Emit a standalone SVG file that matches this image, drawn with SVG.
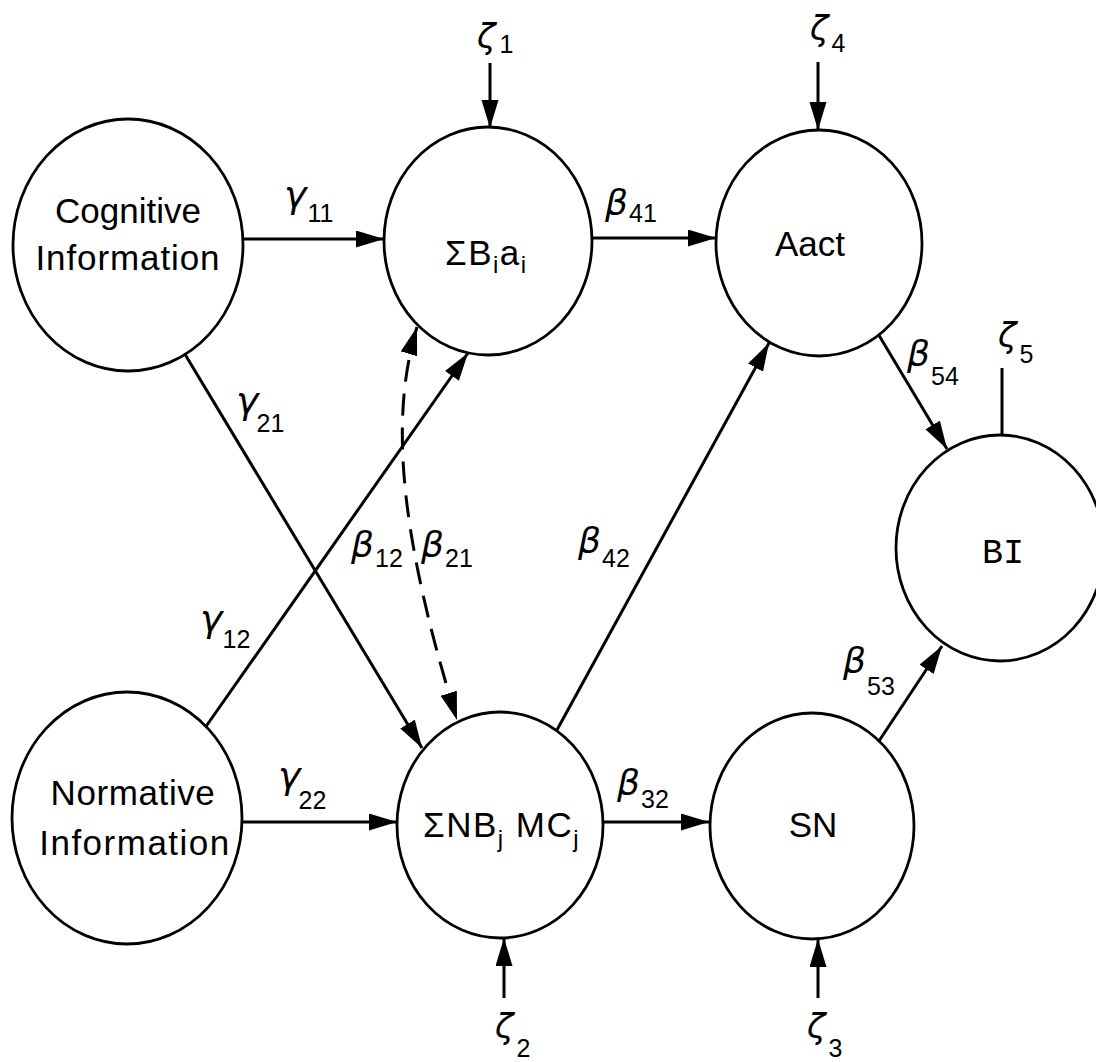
<svg xmlns="http://www.w3.org/2000/svg" width="1096" height="1062" viewBox="0 0 1096 1062">
  <style>
    .node ellipse { fill: #fff; stroke: #000; stroke-width: 2.8; }
    .lbl { font-family: "Liberation Sans", Arial, sans-serif; font-size: 35px; fill: #000; }
    .sub { font-size: 24px; }
    .gr { font-family: "DejaVu Sans", "Liberation Sans", sans-serif; font-style: oblique; font-size: 36px; fill: #000; }
    .gam { font-size: 38px; }
    .zet { font-size: 34px; }
    .gs { font-family: "Liberation Sans", Arial, sans-serif; font-style: normal; font-size: 25px; }
    .edge { fill: none; stroke: #000; stroke-width: 3; }
    .dash { stroke-dasharray: 22 12; }
  </style>
  <defs>
    <marker id="arrow" markerUnits="userSpaceOnUse" markerWidth="30" markerHeight="18" refX="28" refY="8.5" orient="auto-start-reverse">
      <path d="M0,0 L28,8.5 L0,17 z" fill="#000"/>
    </marker>
  </defs>

  <!-- connectors -->
  <g id="connectors">
    <line class="edge" x1="235" y1="239" x2="384" y2="239" marker-end="url(#arrow)"/>
    <line class="edge" x1="585" y1="238" x2="716" y2="238" marker-end="url(#arrow)"/>
    <line class="edge" x1="235" y1="822" x2="397" y2="822" marker-end="url(#arrow)"/>
    <line class="edge" x1="598" y1="822" x2="709" y2="822" marker-end="url(#arrow)"/>
    <line class="edge" x1="180" y1="346" x2="422" y2="748" marker-end="url(#arrow)"/>
    <line class="edge" x1="200" y1="735" x2="468" y2="353" marker-end="url(#arrow)"/>
    <line class="edge" x1="552" y1="739" x2="769" y2="343" marker-end="url(#arrow)"/>
    <line class="edge" x1="874" y1="327" x2="947" y2="449" marker-end="url(#arrow)"/>
    <line class="edge" x1="875" y1="747" x2="942" y2="646" marker-end="url(#arrow)"/>
    <path class="edge dash" d="M417,327 C392,410 395,520 457,720" marker-start="url(#arrow)" marker-end="url(#arrow)"/>
    <!-- disturbance terms -->
    <line class="edge" x1="490" y1="63" x2="490" y2="128" marker-end="url(#arrow)"/>
    <line class="edge" x1="818" y1="62" x2="818" y2="130" marker-end="url(#arrow)"/>
    <line class="edge" x1="1002" y1="368" x2="1002" y2="437"/>
    <line class="edge" x1="504" y1="998" x2="504" y2="938" marker-end="url(#arrow)"/>
    <line class="edge" x1="818" y1="998" x2="818" y2="939" marker-end="url(#arrow)"/>
  </g>

  <!-- path coefficients -->
  <g id="coefficients">
    <text class="gr gam" x="284" y="207">γ<tspan class="gs" dx="1" y="222">11</tspan></text>
    <text class="gr" x="605" y="215">β<tspan class="gs" dx="1" y="222">41</tspan></text>
    <text class="gr gam" x="236" y="413">γ<tspan class="gs" dx="-2" y="432">21</tspan></text>
    <text class="gr gam" x="200" y="631">γ<tspan class="gs" dx="0" y="648">12</tspan></text>
    <text class="gr gam" x="278" y="788">γ<tspan class="gs" dx="-2" y="809">22</tspan></text>
    <text class="gr" x="351" y="557">β<tspan class="gs" dx="1" y="567">12</tspan></text>
    <text class="gr" x="421" y="557">β<tspan class="gs" dx="1" y="567">21</tspan></text>
    <text class="gr" x="578" y="553">β<tspan class="gs" dx="1" y="567">42</tspan></text>
    <text class="gr" x="617" y="795">β<tspan class="gs" dx="1" y="808">32</tspan></text>
    <text class="gr" x="907" y="366">β<tspan class="gs" dx="1" y="385">54</tspan></text>
    <text class="gr" x="843" y="673">β<tspan class="gs" dx="1" y="695">53</tspan></text>
    <text class="gr zet" x="477" y="48">ζ<tspan class="gs" dx="4" y="53">1</tspan></text>
    <text class="gr zet" x="810" y="40">ζ<tspan class="gs" dx="3" y="52">4</tspan></text>
    <text class="gr zet" x="998" y="347">ζ<tspan class="gs" dx="3" y="363">5</tspan></text>
    <text class="gr zet" x="495" y="1038">ζ<tspan class="gs" dx="3" y="1057">2</tspan></text>
    <text class="gr zet" x="807" y="1038">ζ<tspan class="gs" dx="3" y="1057">3</tspan></text>
  </g>

  <!-- nodes -->
  <g id="cognitive" class="node">
    <ellipse cx="128" cy="245" rx="115" ry="126"/>
    <text class="lbl" x="128" y="223" text-anchor="middle">Cognitive</text>
    <text class="lbl" x="128" y="270" text-anchor="middle" letter-spacing="0.9">Information</text>
  </g>
  <g id="normative" class="node">
    <ellipse cx="127" cy="818" rx="115" ry="126"/>
    <text class="lbl" x="133" y="805" text-anchor="middle" letter-spacing="0.6">Normative</text>
    <text class="lbl" x="135" y="855" text-anchor="middle" letter-spacing="1.5">Information</text>
  </g>
  <g id="beliefs" class="node">
    <ellipse cx="488" cy="241" rx="104" ry="114"/>
    <text class="lbl" x="445" y="265" font-size="36" letter-spacing="1.5">ΣB<tspan class="sub" dy="8">i</tspan><tspan dy="-8">a</tspan><tspan class="sub" dy="8">i</tspan></text>
  </g>
  <g id="normbeliefs" class="node">
    <ellipse cx="500" cy="825" rx="103" ry="113"/>
    <text class="lbl" x="423" y="837" letter-spacing="1.5">ΣNB<tspan class="sub" dy="10">j</tspan><tspan dy="-10"> MC</tspan><tspan class="sub" dy="10">j</tspan></text>
  </g>
  <g id="aact" class="node">
    <ellipse cx="819" cy="243" rx="103" ry="113"/>
    <text class="lbl" x="810" y="256" text-anchor="middle" font-size="36">Aact</text>
  </g>
  <g id="sn" class="node">
    <ellipse cx="812" cy="826" rx="102" ry="113"/>
    <text class="lbl" x="813" y="837" text-anchor="middle">SN</text>
  </g>
  <g id="bi" class="node">
    <ellipse cx="1000" cy="548" rx="104" ry="113"/>
    <text class="lbl" x="982" y="563" style="font-family:'Liberation Mono','DejaVu Sans Mono',monospace" font-size="44" textLength="42" lengthAdjust="spacingAndGlyphs">BI</text>
  </g>
</svg>
